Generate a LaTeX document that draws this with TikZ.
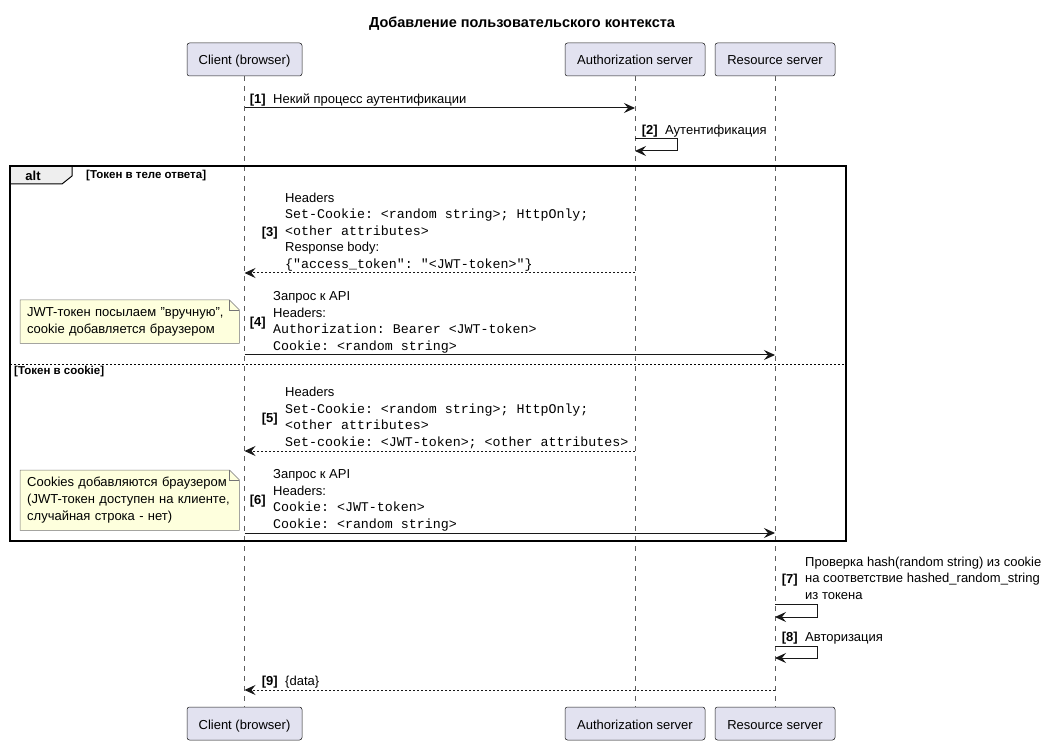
\documentclass[tikz,border=0pt]{standalone}
\usepackage{fontspec}
\setmainfont{Liberation Sans}
\setmonofont{Liberation Mono}
\usetikzlibrary{arrows.meta,positioning,backgrounds}
\definecolor{partfill}{HTML}{E2E2F0}
\definecolor{notefill}{HTML}{FEFFDD}
\definecolor{linecol}{HTML}{181818}
\definecolor{tabfill}{HTML}{EEEEEE}

\begin{document}
\begin{tikzpicture}[x=1pt, y=-1pt,
    part/.style={draw=linecol, line width=0.5pt, fill=partfill, rounded corners=2.5pt,
      minimum height=33pt, inner sep=0pt, text height=14pt, text depth=3pt,
      font=\fontsize{13}{15}\selectfont},
    life/.style={draw=linecol!70, line width=0.5pt, dash pattern=on 5pt off 5pt},
    msg/.style={draw=linecol, line width=1pt, -{Stealth[length=11pt,width=10pt,inset=4pt]}},
    reply/.style={msg, dash pattern=on 2pt off 2pt},
    lbl/.style={anchor=south west, inner sep=0pt, align=left,
      font=\fontsize{13}{16.5}\selectfont, execute at end node=\strut},
    num/.style={inner sep=0pt, font=\bfseries\fontsize{13}{16.5}\selectfont},
    note/.style={anchor=north west, inner xsep=7pt, inner ysep=0pt, text width=205pt,
      align=left, font=\fontsize{13}{17}\selectfont},
    notebox/.style={draw=linecol!60, line width=0.5pt, fill=notefill},
    guard/.style={anchor=west, inner sep=0pt, font=\bfseries\fontsize{11.5}{13}\selectfont}]

  \newcommand\cd[1]{{\ttfamily\fontsize{13.3}{16.5}\selectfont #1}}

  \useasboundingbox (0,0) rectangle (1045,743);
  \node[font=\bfseries\fontsize{14.5}{17}\selectfont] (title) at (522,24) {Добавление пользовательского контекста};

  % participants, top and bottom
  \node[part, minimum width=115pt] (cT) at (244.5,59.5) {Client (browser)};
  \node[part, minimum width=140pt] (aT) at (635,59.5) {Authorization server};
  \node[part, minimum width=120pt] (rT) at (775,59.5) {Resource server};
  \node[part, minimum width=115pt] (cB) at (244.5,723.5) {Client (browser)};
  \node[part, minimum width=140pt] (aB) at (635,723.5) {Authorization server};
  \node[part, minimum width=120pt] (rB) at (775,723.5) {Resource server};

  \draw[life] (cT) -- (cB);
  \draw[life] (aT) -- (aB);
  \draw[life] (rT) -- (rB);

  % alt frame
  \draw[line width=1pt, fill=tabfill] (10,166) -- (72,166) -- (72,176) -- (62,184) -- (10,184) -- cycle;
  \draw[line width=1.5pt] (10,166) rectangle (846,541);
  \node[font=\bfseries\fontsize{13}{15}\selectfont] (alt) at (33,175.5) {alt};
  \node[guard] (g1) at (86,176) {[Токен в теле ответа]};
  \draw[line width=0.5pt, dash pattern=on 2pt off 2pt] (10,364) -- (846,364);
  \node[guard] (g2) at (14,372) {[Токен в cookie]};

  % message ends
  \coordinate (c1) at (cT |- 0,108);   \coordinate (a1) at (aT |- 0,108);
  \coordinate (a2) at (aT |- 0,139);   \coordinate (a2b) at (aT |- 0,151);
  \coordinate (a3) at (aT |- 0,273);   \coordinate (c3) at (cT |- 0,273);
  \coordinate (c4) at (cT |- 0,355);   \coordinate (r4) at (rT |- 0,355);
  \coordinate (a5) at (aT |- 0,451);   \coordinate (c5) at (cT |- 0,451);
  \coordinate (c6) at (cT |- 0,533);   \coordinate (r6) at (rT |- 0,533);
  \coordinate (r7) at (rT |- 0,604);   \coordinate (r7b) at (rT |- 0,617);
  \coordinate (r8) at (rT |- 0,646);   \coordinate (r8b) at (rT |- 0,658);
  \coordinate (r9) at (rT |- 0,690);   \coordinate (c9) at (cT |- 0,690);

  % messages
  \draw[msg] (c1) -- (a1);
  \node[lbl] (m1) at (273,108.5) {Некий процесс аутентификации};
  \node[num, left=7pt of m1] (n1) {[1]};

  \draw[msg] (a2) -- ++(42,0) |- (a2b);
  \node[lbl] (m2) at (665,139.5) {Аутентификация};
  \node[num, left=7pt of m2] (n2) {[2]};

  \draw[reply] (a3) -- (c3);
  \node[lbl] (m3) at (285,273.5) {Headers\\ \cd{Set-Cookie: <random string>; HttpOnly;}\\
    \cd{<other attributes>}\\ Response body:\\ \cd{\{"access\_token": "<JWT-token>"\}}};
  \node[num, left=7pt of m3] (n3) {[3]};

  \draw[msg] (c4) -- (r4);
  \node[lbl] (m4) at (273,355.5) {Запрос к API\\ Headers:\\
    \cd{Authorization: Bearer <JWT-token>}\\ \cd{Cookie: <random string>}};
  \node[num, left=7pt of m4] (n4) {[4]};

  \draw[reply] (a5) -- (c5);
  \node[lbl] (m5) at (285,451.5) {Headers\\ \cd{Set-Cookie: <random string>; HttpOnly;}\\
    \cd{<other attributes>}\\ \cd{Set-cookie: <JWT-token>; <other attributes>}};
  \node[num, left=7pt of m5] (n5) {[5]};

  \draw[msg] (c6) -- (r6);
  \node[lbl] (m6) at (273,533.5) {Запрос к API\\ Headers:\\
    \cd{Cookie: <JWT-token>}\\ \cd{Cookie: <random string>}};
  \node[num, left=7pt of m6] (n6) {[6]};

  \draw[msg] (r7) -- ++(42,0) |- (r7b);
  \node[lbl] (m7) at (805,604.5) {Проверка hash(random string) из cookie\\
    на соответствие hashed\_random\_string\\ из токена};
  \node[num, left=7pt of m7] (n7) {[7]};

  \draw[msg] (r8) -- ++(42,0) |- (r8b);
  \node[lbl] (m8) at (805,646.5) {Авторизация};
  \node[num, left=7pt of m8] (n8) {[8]};

  \draw[reply] (r9) -- (c9);
  \node[lbl] (m9) at (285,690.5) {\{data\}};
  \node[num, left=7pt of m9] (n9) {[9]};

  % notes
  \node[note, minimum height=43pt] (note4) at (20,300) {JWT-токен посылаем "вручную",\\ cookie добавляется браузером};
  \node[note, minimum height=60pt] (note6) at (20,470) {Cookies добавляются браузером\\
    (JWT-токен доступен на клиенте,\\ случайная строка - нет)};
  \begin{scope}[on background layer]
    \foreach \nt in {note4, note6} {
      \draw[notebox] (\nt.north west) -- ([xshift=-10pt]\nt.north east) -- ([yshift=-10pt]\nt.north east)
        -- (\nt.south east) -- (\nt.south west) -- cycle;
      \draw[notebox, fill=none] ([xshift=-10pt]\nt.north east) |- ([yshift=-10pt]\nt.north east);
    }
  \end{scope}
\end{tikzpicture}
\end{document}
